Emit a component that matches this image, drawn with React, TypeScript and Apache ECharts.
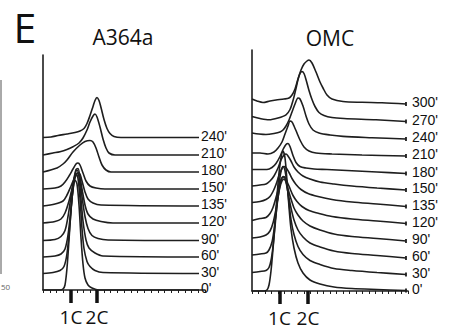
import React, { useEffect, useRef } from "react";
import * as echarts from "echarts";

// ---------- panel A364a (x: px-like channel units from axis, h: height above trace baseline) ----------
const a364aTimes = ["0'", "30'", "60'", "90'", "120'", "135'", "150'", "180'", "210'", "240'"];
const a364aOffsets = [0, 16.5, 33, 49.5, 67, 84, 101, 118, 135, 152.5];

const a364a_0 = [[0,0],[17,0],[20,1],[22,5],[24,22],[26,50],[28,80],[30,100],[32,110],[34,106],[36,85],[38,52],[40,26],[42,12],[45,5],[49,2],[56,0],[156,0]];
const a364a_30 = [[0,0],[10,1],[17,3],[21,7],[24,20],[27,50],[29,75],[31,93],[33,100],[35,95],[37,75],[39,45],[41,25],[44,12],[47,7],[52,3],[60,1],[156,0]];
const a364a_60 = [[0,0],[12,1],[18,3],[22,8],[25,22],[28,48],[30,68],[32,82],[34,87],[36,80],[38,58],[40,36],[43,17],[46,9],[52,4],[60,1],[156,0]];
const a364a_90 = [[0,0],[12,1],[18,4],[22,10],[25,24],[28,44],[31,62],[33,71],[35,72],[37,62],[39,44],[42,24],[45,12],[49,5],[55,2],[65,0.5],[156,0]];
const a364a_120 = [[0,0],[12,1.5],[18,4],[22,10],[26,22],[30,38],[33,48],[35,50],[37,45],[39,34],[42,18],[45,9],[50,4],[58,1.5],[70,0],[156,0]];
const a364a_135 = [[0,0],[12,2],[20,5],[24,11],[28,20],[32,29],[35,33],[37,32],[39,25],[42,14],[45,7],[50,3],[58,1],[156,0]];
const a364a_150 = [[0,0],[12,1],[18,3],[22,7],[26,13],[30,20],[33,25],[35,26],[37,24],[40,16],[43,8],[47,3],[53,1],[62,0],[156,0]];
const a364a_180 = [[0,0],[14,4],[20,8],[24,12],[30,20],[37,27],[42,30.5],[47,31.5],[50,30],[53,24],[56,15],[59,7],[63,2],[68,0],[156,0]];
const a364a_210 = [[0,0],[10,2],[17,3.3],[24,5.5],[30,8.3],[36,12],[40,17],[44,25],[47,33],[50,39],[52,41],[54,38],[57,28],[60,16],[63,7],[66,2],[72,0],[156,0]];
const a364a_240 = [[0,0],[8,0.5],[15,2],[24,3.5],[32,5],[37,6.5],[41,9],[44,14],[47,22],[50,31],[52,37],[54,40],[56,37],[58,30],[61,18],[64,9],[67,4],[71,1],[78,0],[156,0]];
const a364aTraces = [a364a_0, a364a_30, a364a_60, a364a_90, a364a_120, a364a_135, a364a_150, a364a_180, a364a_210, a364a_240];

// ---------- panel OMC ----------
const omcTimes = ["0'", "30'", "60'", "90'", "120'", "135'", "150'", "180'", "210'", "240'", "270'", "300'"];
const omcOffsets = [0, 16.5, 33, 50, 67.5, 84.5, 101, 117.5, 135, 152, 169.5, 187];

const omc_0 = [[0,0],[12,0],[15,1],[17,6],[19,20],[21,42],[23,68],[25,95],[27,118],[29,133],[31,140],[33,133],[35,110],[37,84],[39,62],[42,43],[46,28],[51,18],[58,11],[68,7],[82,4],[100,2.5],[125,1.5],[154,0.5]];
const omc_30 = [[0,2],[8,3],[14,4],[17,7],[19,14],[21,28],[23,48],[25,70],[27,90],[29,103],[31,108],[33,104],[35,90],[37,72],[39,55],[42,40],[46,28],[51,20],[58,14],[68,10],[82,6],[100,4],[125,2],[154,0]];
const omc_60 = [[0,3],[8,4],[14,5],[17,8],[20,16],[22,28],[24,44],[26,60],[28,73],[30,80],[32,81],[34,76],[36,65],[39,50],[42,38],[46,28],[51,21],[58,15],[68,11],[82,7],[100,4.5],[125,2.5],[154,0]];
const omc_90 = [[0,3],[8,4],[14,6],[18,10],[21,18],[24,32],[26,44],[28,54],[30,60],[32,62],[34,59],[36,52],[39,42],[42,33],[46,26],[51,20],[58,15],[68,11],[82,7],[100,4.5],[125,2.5],[154,0]];
const omc_120 = [[0,3],[8,5],[14,6],[18,10],[21,16],[24,26],[27,37],[29,44],[31,47],[33,46],[35,42],[38,35],[41,28],[45,22],[50,17],[57,13],[67,10],[80,7],[100,4.5],[125,2.5],[154,0]];
const omc_135 = [[0,4],[8,5],[14,7],[18,10],[21,15],[24,22],[27,31],[30,38],[32,40],[34,39],[37,34],[40,28],[44,22],[49,17],[56,13],[66,10],[80,7],[100,4.5],[125,2.5],[154,0]];
const omc_150 = [[0,4],[8,5],[14,6],[18,9],[22,14],[26,22],[29,30],[32,35],[34,36],[36,34],[39,29],[42,23],[46,18],[51,14],[58,11],[68,8],[82,6],[100,4],[125,2],[154,0]];
const omc_180 = [[0,4],[8,4],[15,4],[20,6],[24,10],[28,17],[31,24],[34,29],[36,30],[38,27],[41,18],[44,11],[48,7],[54,5.5],[62,4.5],[75,4],[95,3],[125,1.5],[154,0]];
const omc_210 = [[0,3],[8,3],[16,2],[22,4],[26,8],[30,14],[33,22],[36,30],[38,35],[40,34],[42,30],[45,23],[48,16],[52,9],[57,5],[64,3],[80,2],[110,1],[154,0]];
const omc_240 = [[0,6],[7,5],[14,4.5],[22,5.5],[28,7],[31,9],[34,13],[37,19],[40,27],[43,35],[46,41],[48,40],[51,33],[54,23],[57,15],[61,9],[67,6],[78,4],[91,2.6],[120,1.3],[154,0]];
const omc_270 = [[0,5],[8,3],[17,1.7],[26,3.5],[34,6.7],[38,12],[41,21],[44,33],[46,42],[48,48],[50,50],[52,48],[54,42],[57,31],[60,22],[63,15],[67,9],[72,6],[80,4],[92,3],[124,1.7],[154,0]];
const omc_300 = [[0,5],[5,3],[11,1.5],[18,3],[24,4],[32,5],[37,6],[40,9],[43,15],[46,25],[49,34],[52,40],[55,43],[57,44],[60,41],[64,32],[68,22],[71,16],[75,9],[80,5],[91,2.5],[110,1.7],[130,1.2],[154,0]];
const omcTraces = [omc_0, omc_30, omc_60, omc_90, omc_120, omc_135, omc_150, omc_180, omc_210, omc_240, omc_270, omc_300];

// DNA content reference ticks
const ploidyLabels = ["1C", "2C"];
const a364aPloidyPos = [28, 54];
const omcPloidyPos = [27.5, 56];

const INK = "#1e1e1e";
const FONT = "Open Sans";
const LABEL_FONT = "Liberation Sans";

function buildSeries(traces: number[][][], offsets: number[], names: string[], axisIdx: number, yIdx: number, labelDist: number, endDot: boolean) {
  return traces.map((tr, i) => {
    const data: any[] = tr.map(([x, h], j) => {
      const v = [x, h + offsets[i]];
      if (endDot && j === tr.length - 1) {
        return { value: v, symbol: "rect", symbolSize: [1.8, 4], itemStyle: { color: INK } };
      }
      return v;
    });
    return {
      type: "line",
      name: names[i],
      xAxisIndex: axisIdx,
      yAxisIndex: yIdx,
      data,
      smooth: 0.3,
      showSymbol: endDot,
      symbol: "none",
      clip: false,
      lineStyle: { color: INK, width: 1.6 },
      endLabel: {
        show: true,
        formatter: names[i],
        color: "#111",
        fontSize: 14,
        lineHeight: 14,
        fontFamily: LABEL_FONT,
        distance: labelDist,
        offset: [0, -2],
      },
      z: 2 + i,
    };
  });
}

function minorAxis(grid: number, max: number) {
  return {
    type: "value",
    gridIndex: grid,
    min: 0,
    max,
    interval: max / 24,
    position: "bottom",
    axisLine: { show: true, onZero: false, lineStyle: { color: INK, width: 1.6 } },
    axisTick: { show: true, length: 3, lineStyle: { color: INK, width: 1 } },
    axisLabel: { show: false },
    splitLine: { show: false },
  };
}

function ploidyAxis(grid: number, max: number, pos: number[]) {
  return {
    type: "value",
    gridIndex: grid,
    min: 0,
    max,
    position: "bottom",
    axisLine: { show: false, onZero: false },
    axisTick: { show: true, customValues: pos, length: 13, lineStyle: { color: "#111", width: 3.5 } },
    axisLabel: {
      show: true,
      customValues: pos,
      formatter: (v: number) => ploidyLabels[pos.indexOf(v)] ?? "",
      fontSize: 19,
      lineHeight: 19,
      fontFamily: FONT,
      color: "#111",
      margin: 17,
    },
    splitLine: { show: false },
  };
}

function yAxis(grid: number, max: number) {
  return {
    type: "value",
    gridIndex: grid,
    min: 0,
    max,
    axisLine: { show: true, lineStyle: { color: INK, width: 1.6 } },
    axisTick: { show: false },
    axisLabel: { show: false },
    splitLine: { show: false },
  };
}

export default function App() {
  const ref = useRef<HTMLDivElement>(null);
  useEffect(() => {
    const chart = echarts.init(ref.current!, null, { renderer: "svg" });
    const option: any = {
      animation: false,
      backgroundColor: "#fff",
      grid: [
        { left: 43, top: 55, width: 162, height: 235 },
        { left: 252, top: 50, width: 156, height: 241 },
      ],
      xAxis: [
        minorAxis(0, 162),
        ploidyAxis(0, 162, a364aPloidyPos),
        minorAxis(1, 156),
        ploidyAxis(1, 156, omcPloidyPos),
      ],
      yAxis: [yAxis(0, 235), yAxis(1, 241)],
      graphic: [
        { type: "text", x: 25, y: 27, style: { text: "E", fontSize: 41, fontFamily: FONT, fill: "#111", align: "center", verticalAlign: "middle" } },
        { type: "text", x: 123, y: 37, style: { text: "A364a", fontSize: 21, fontFamily: FONT, fill: "#111", align: "center", verticalAlign: "middle" } },
        { type: "text", x: 330, y: 37.5, style: { text: "OMC", fontSize: 21, fontFamily: FONT, fill: "#111", align: "center", verticalAlign: "middle" } },
        { type: "line", shape: { x1: 1, y1: 80, x2: 1, y2: 274 }, style: { stroke: "#555", lineWidth: 1 } },
        { type: "text", x: 1, y: 286, style: { text: "50", fontSize: 8, fontFamily: FONT, fill: "#666", align: "left", verticalAlign: "middle" } },
      ],
      series: [
        ...buildSeries(a364aTraces, a364aOffsets, a364aTimes, 0, 0, 2, false),
        ...buildSeries(omcTraces, omcOffsets, omcTimes, 2, 1, 6, true),
      ],
    };
    chart.setOption(option);
    return () => chart.dispose();
  }, []);
  return <div ref={ref} style={{ position: "fixed", left: 0, top: 0, width: 452, height: 331, background: "#fff" }} />;
}
